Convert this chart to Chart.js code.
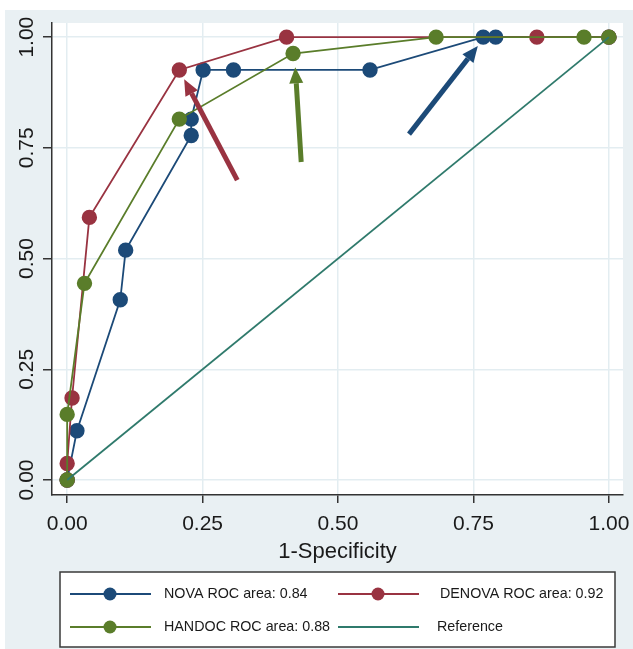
<!DOCTYPE html>
<html>
<head>
<meta charset="utf-8">
<script src="https://cdn.jsdelivr.net/npm/chart.js@4.4.1/dist/chart.umd.min.js"></script>
<style>
  html, body { margin: 0; padding: 0; background: #fff; }
  #wrap { width: 633px; height: 649px; }
</style>
</head>
<body>
<div id="wrap"><canvas id="myChart" width="633" height="649"></canvas></div>
<script>
// 1-specificity (x) and sensitivity (y)
const novaX = [0, 0.018, 0.098, 0.108, 0.229, 0.229, 0.251, 0.307, 0.559, 0.768, 0.791, 1];
const novaY = [0, 0.111, 0.407, 0.519, 0.778, 0.815, 0.926, 0.926, 0.926, 1, 1, 1];

const denovaX = [0, 0, 0.009, 0.041, 0.207, 0.405, 0.867, 1];
const denovaY = [0, 0.037, 0.185, 0.593, 0.926, 1, 1, 1];

const handocX = [0, 0, 0.032, 0.207, 0.417, 0.681, 0.954, 1];
const handocY = [0, 0.148, 0.444, 0.815, 0.963, 1, 1, 1];

const refX = [0, 1];
const refY = [0, 1];

const tickValues = [0, 0.25, 0.5, 0.75, 1];

// annotation arrows, [x, y] in data units
const arrowFrom = [[0.314, 0.677], [0.432, 0.718], [0.631, 0.781]];
const arrowTo = [[0.216, 0.905], [0.421, 0.932], [0.758, 0.98]];

const blue = "#1c4a78";
const red = "#993341";
const green = "#5a7d2a";
const teal = "#2f7a6c";
const arrowColors = [red, green, blue];

const pts = (xs, ys) => xs.map((x, i) => ({x: x, y: ys[i]}));

const bgPlugin = {
    id: "bg",
    beforeDraw(chart) {
        const ctx = chart.ctx;
        const a = chart.chartArea;
        ctx.save();
        ctx.fillStyle = "#ffffff";
        ctx.fillRect(0, 0, chart.width, chart.height);
        ctx.fillStyle = "#e9f0f3";
        ctx.fillRect(5, 10, chart.width - 5, chart.height - 10);
        ctx.fillStyle = "#ffffff";
        ctx.fillRect(a.left, a.top, a.right - a.left, a.bottom - a.top);
        ctx.restore();
    }
};

const arrowPlugin = {
    id: "arrows",
    afterDatasetsDraw(chart) {
        const ctx = chart.ctx;
        const xs = chart.scales.x, ys = chart.scales.y;
        ctx.save();
        arrowFrom.forEach((f, i) => {
            const x1 = xs.getPixelForValue(f[0]), y1 = ys.getPixelForValue(f[1]);
            const x2 = xs.getPixelForValue(arrowTo[i][0]), y2 = ys.getPixelForValue(arrowTo[i][1]);
            const ang = Math.atan2(y2 - y1, x2 - x1);
            const headLen = 16, headW = 7;
            const bx = x2 - headLen * Math.cos(ang), by = y2 - headLen * Math.sin(ang);
            ctx.strokeStyle = arrowColors[i];
            ctx.fillStyle = arrowColors[i];
            ctx.lineWidth = 5;
            ctx.beginPath();
            ctx.moveTo(x1, y1);
            ctx.lineTo(bx, by);
            ctx.stroke();
            ctx.beginPath();
            ctx.moveTo(x2, y2);
            ctx.lineTo(bx + headW * Math.sin(ang), by - headW * Math.cos(ang));
            ctx.lineTo(bx - headW * Math.sin(ang), by + headW * Math.cos(ang));
            ctx.closePath();
            ctx.fill();
        });
        ctx.restore();
    }
};

// Stata style legend box under the plot
const legendPlugin = {
    id: "boxLegend",
    afterDraw(chart) {
        const ctx = chart.ctx;
        const ds = chart.data.datasets;
        const slots = [
            {i: 0, lx: 70, tx: 164, y: 594},
            {i: 1, lx: 338, tx: 440, y: 594},
            {i: 2, lx: 70, tx: 164, y: 627},
            {i: 3, lx: 338, tx: 437, y: 627}
        ];
        ctx.save();
        ctx.fillStyle = "#ffffff";
        ctx.fillRect(60, 572, 555, 75);
        ctx.strokeStyle = "#3a3a3a";
        ctx.lineWidth = 1.5;
        ctx.strokeRect(60, 572, 555, 75);
        ctx.font = "14.3px 'Liberation Sans', Arial, sans-serif";
        ctx.textBaseline = "middle";
        slots.forEach(s => {
            const d = ds[s.i];
            ctx.strokeStyle = d.borderColor;
            ctx.lineWidth = 2;
            ctx.beginPath();
            ctx.moveTo(s.lx, s.y);
            ctx.lineTo(s.lx + 81, s.y);
            ctx.stroke();
            if (d.pointRadius > 0) {
                ctx.fillStyle = d.pointBackgroundColor;
                ctx.beginPath();
                ctx.arc(s.lx + 40, s.y, 6.5, 0, Math.PI * 2);
                ctx.fill();
            }
            ctx.fillStyle = "#1a1a1a";
            ctx.fillText(d.label, s.tx, s.y);
        });
        ctx.restore();
    }
};

const line = (label, xs, ys, color, r, order) => ({
    label: label,
    data: pts(xs, ys),
    showLine: true,
    borderColor: color,
    backgroundColor: color,
    pointBackgroundColor: color,
    pointBorderColor: color,
    borderWidth: 1.8,
    pointRadius: r,
    pointHoverRadius: r,
    tension: 0,
    order: order
});

new Chart(document.getElementById("myChart"), {
    type: "scatter",
    data: {
        datasets: [
            line("NOVA ROC area: 0.84", novaX, novaY, blue, 6.8, 3),
            line("DENOVA ROC area: 0.92", denovaX, denovaY, red, 6.8, 2),
            line("HANDOC ROC area: 0.88", handocX, handocY, green, 6.8, 1),
            line("Reference", refX, refY, teal, 0, 0)
        ]
    },
    options: {
        responsive: false,
        animation: false,
        layout: {padding: {top: 23, right: 10, bottom: 84, left: 0}},
        plugins: {
            legend: {display: false},
            tooltip: {enabled: false}
        },
        scales: {
            x: {
                type: "linear",
                min: -0.028,
                max: 1.026,
                afterBuildTicks: s => { s.ticks = tickValues.map(v => ({value: v})); },
                afterFit: s => { s.height = 70; s.paddingLeft = 0; s.paddingRight = 0; },
                grid: {color: "#e3edf1", lineWidth: 1.5, tickColor: "#333", tickLength: 8},
                border: {color: "#333", width: 1.5},
                ticks: {
                    color: "#1a1a1a",
                    padding: 9,
                    maxRotation: 0,
                    font: {family: "'Liberation Sans', Arial, sans-serif", size: 21},
                    callback: v => v.toFixed(2)
                },
                title: {
                    display: true,
                    text: "1-Specificity",
                    color: "#1a1a1a",
                    padding: 0,
                    font: {family: "'Liberation Sans', Arial, sans-serif", size: 22}
                }
            },
            y: {
                type: "linear",
                min: -0.034,
                max: 1.032,
                afterBuildTicks: s => { s.ticks = tickValues.map(v => ({value: v})); },
                afterFit: s => { s.width = 52; s.paddingTop = 0; s.paddingBottom = 0; },
                grid: {color: "#e3edf1", lineWidth: 1.5, tickColor: "#333", tickLength: 9},
                border: {color: "#333", width: 1.5},
                ticks: {
                    color: "#1a1a1a",
                    padding: -5,
                    minRotation: 90,
                    maxRotation: 90,
                    crossAlign: "center",
                    font: {family: "'Liberation Sans', Arial, sans-serif", size: 21},
                    callback: v => v.toFixed(2)
                }
            }
        }
    },
    plugins: [bgPlugin, arrowPlugin, legendPlugin]
});
</script>
</body>
</html>
